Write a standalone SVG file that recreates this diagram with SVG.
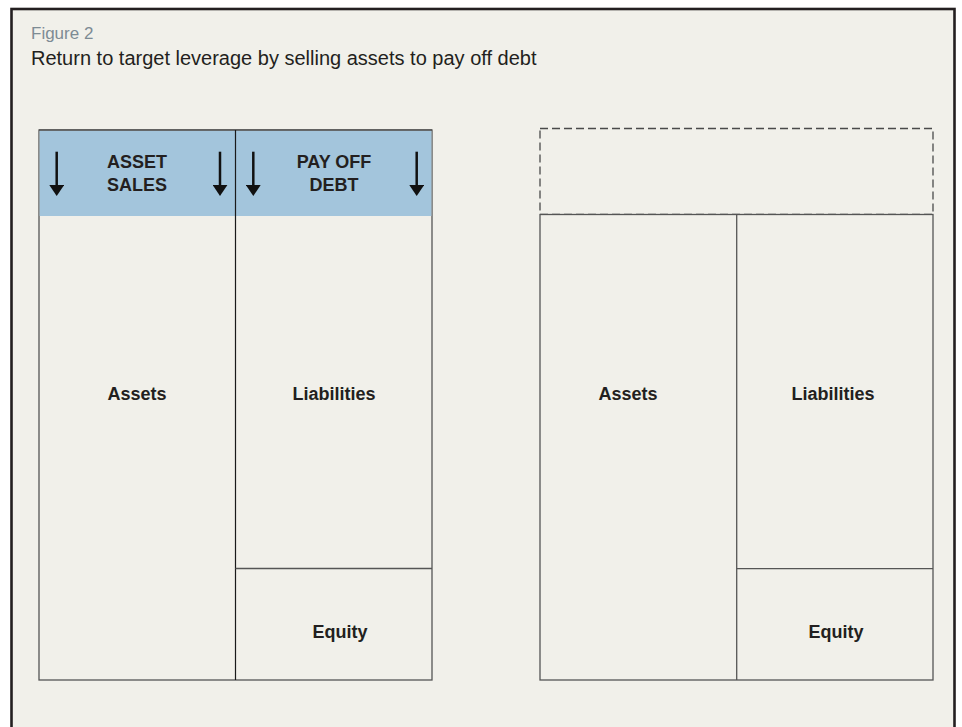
<svg xmlns="http://www.w3.org/2000/svg" width="962" height="727" viewBox="0 0 962 727">
  <defs>
    <style>
      .page { fill: #f1f0ea; stroke: #231f20; stroke-width: 2.6; }
      .box { fill: #f1f0ea; stroke: #555555; stroke-width: 1.3; }
      .band { fill: #a3c5dc; }
      .ghost { fill: none; stroke: #4a4a4a; stroke-width: 1.3; stroke-dasharray: 8 4; }
      .div { stroke: #1a1a1a; stroke-width: 1.2; fill: none; }
      .rule { stroke: #555555; stroke-width: 1.3; fill: none; }
      .fig { font-family: "Liberation Sans", Arial, sans-serif; font-size: 17px; fill: #7d8b94; }
      .title { font-family: "Liberation Sans", Arial, sans-serif; font-size: 20px; fill: #231f20; }
      .lbl { font-family: "Liberation Sans", Arial, sans-serif; font-size: 18px; font-weight: bold; fill: #231f20; text-anchor: middle; }
      .shaft { stroke: #111111; stroke-width: 2.5; fill: none; marker-end: url(#head); }
    </style>
    <marker id="head" markerUnits="userSpaceOnUse" viewBox="0 -7.5 11 15" refX="0" refY="0" markerWidth="11" markerHeight="15" orient="auto">
      <path d="M0,-7.4 L11,0 L0,7.4 Z" fill="#111111"/>
    </marker>
  </defs>

  <rect x="0" y="0" width="962" height="727" fill="#ffffff"/>
  <rect class="page" x="11.5" y="9" width="943" height="740"/>

  <text class="fig" x="31" y="39">Figure 2</text>
  <text class="title" x="31" y="65">Return to target leverage by selling assets to pay off debt</text>

  <!-- Balance sheet before: asset sales and debt repayment band on top -->
  <g id="before">
    <rect class="box" x="39" y="130" width="393" height="550"/>
    <rect class="band" x="39.6" y="130.6" width="391.8" height="85.4"/>
    <line class="rule" x1="39" y1="130" x2="432" y2="130"/>
    <line class="div" x1="235.5" y1="130" x2="235.5" y2="680"/>
    <line class="rule" x1="235.5" y1="568.5" x2="432" y2="568.5"/>
  </g>
  <g id="asset-sales">
    <text class="lbl" x="137" y="168">ASSET</text>
    <text class="lbl" x="137" y="191">SALES</text>
  </g>
  <g id="pay-off-debt">
    <text class="lbl" x="334" y="168">PAY OFF</text>
    <text class="lbl" x="334" y="191">DEBT</text>
  </g>
  <g id="assets-before"><text class="lbl" x="137" y="400">Assets</text></g>
  <g id="liabilities-before"><text class="lbl" x="334" y="400">Liabilities</text></g>
  <g id="equity-before"><text class="lbl" x="340" y="638">Equity</text></g>

  <!-- Balance sheet after: shrunk, with the removed slice shown dashed -->
  <g id="after">
    <rect class="ghost" x="540" y="128.5" width="393" height="86"/>
    <rect class="box" x="540" y="214.5" width="393" height="465.5"/>
    <line class="rule" x1="736.7" y1="214.5" x2="736.7" y2="680"/>
    <line class="rule" x1="736.7" y1="568.7" x2="933" y2="568.7"/>
  </g>
  <g id="assets-after"><text class="lbl" x="628" y="400">Assets</text></g>
  <g id="liabilities-after"><text class="lbl" x="833" y="400">Liabilities</text></g>
  <g id="equity-after"><text class="lbl" x="836" y="638">Equity</text></g>

  <!-- Downward arrows -->
  <g id="connectors">
    <line class="shaft" x1="56.7" y1="151.7" x2="56.7" y2="185"/>
    <line class="shaft" x1="220" y1="151.7" x2="220" y2="185"/>
    <line class="shaft" x1="253.3" y1="151.7" x2="253.3" y2="185"/>
    <line class="shaft" x1="416.7" y1="151.7" x2="416.7" y2="185"/>
  </g>
</svg>
